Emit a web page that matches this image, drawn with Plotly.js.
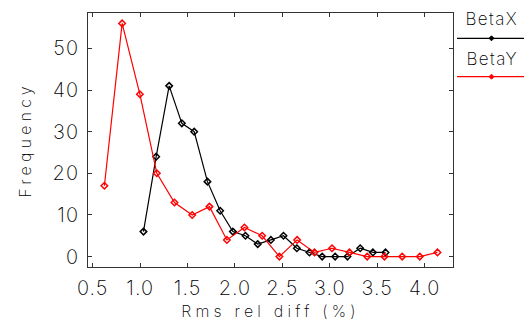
<!DOCTYPE html>
<html><head><meta charset="utf-8">
<script src="https://cdn.plot.ly/plotly-3.0.1.min.js"></script>
<style>
html,body{margin:0;padding:0;background:#fff}#chart{width:524px;height:322px}
#chart text.xtitle, #chart text.ytitle{letter-spacing:4.2px}
#chart .xtick text, #chart .ytick text{letter-spacing:1px}
#chart text.annotation-text{letter-spacing:1.4px}
</style>
</head><body><div id="chart"></div>
<script>
const betaXBins = [1.035,1.169,1.306,1.440,1.570,1.710,1.844,1.978,2.111,2.240,2.379,2.512,2.653,2.786,2.920,3.057,3.187,3.321,3.455,3.588];
const betaXFreq = [6,24,41,32,30,18,11,6,5,3,4,5,2,1,0,0,0,2,1,1];
const betaYBins = [0.623,0.810,0.997,1.176,1.362,1.549,1.731,1.915,2.100,2.287,2.469,2.656,2.839,3.024,3.208,3.395,3.577,3.764,3.950,4.136];
const betaYFreq = [17,56,39,20,13,10,12,4,7,5,0,4,1,2,1,0,0,0,0,1];
const xTicks = [0.5,1.0,1.5,2.0,2.5,3.0,3.5,4.0];
const yTicks = [0,10,20,30,40,50];
const seriesNames = ['BetaX','BetaY'];
const seriesColors = ['#000000','#ff0000'];

const FONT = 'Inter, DejaVu Sans, sans-serif';
const WT = 250;
const TXT = '#000';
const mk = (x,y,c,n)=>({x:x,y:y,name:n,type:'scatter',mode:'lines+markers',
  line:{color:c,width:1.2},marker:{symbol:'diamond-open',size:5,color:c,line:{color:c,width:1.5}},showlegend:false});

const traces=[mk(betaXBins,betaXFreq,seriesColors[0],seriesNames[0]),mk(betaYBins,betaYFreq,seriesColors[1],seriesNames[1])];

const W=365,H=254;
const lx0=(457-88)/W, lx1=(526-88)/W, lxm=(491.5-88)/W;
const legY=[(267-38.3)/H,(267-76.7)/H];
const txtY=[(267-19.5)/H,(267-58.5)/H];
const dx=2.5/W, dy=2.5/H;
const shapes=[],annotations=[];
seriesNames.forEach((n,i)=>{
  shapes.push({type:'line',xref:'paper',yref:'paper',x0:lx0,x1:lx1,y0:legY[i],y1:legY[i],line:{color:seriesColors[i],width:1.2}});
  shapes.push({type:'path',xref:'paper',yref:'paper',path:`M ${lxm-dx},${legY[i]} L ${lxm},${legY[i]+dy} L ${lxm+dx},${legY[i]} L ${lxm},${legY[i]-dy} Z`,fillcolor:seriesColors[i],line:{color:seriesColors[i],width:1}});
  annotations.push({xref:'paper',yref:'paper',x:(492-88)/W,y:txtY[i],text:n,showarrow:false,xanchor:'center',yanchor:'middle',font:{family:FONT,size:17,color:TXT,weight:WT}});
});

const axisCommon={showgrid:false,zeroline:false,showline:true,linecolor:'#333',linewidth:1,mirror:'ticks',ticks:'inside',ticklen:4,tickcolor:'#333',tickfont:{family:FONT,size:20,color:TXT,weight:WT}};
const layout={
  width:524,height:322,margin:{l:88,r:71,t:13,b:55},
  paper_bgcolor:'#fff',plot_bgcolor:'#fff',
  xaxis:Object.assign({},axisCommon,{range:[0.45,4.30],tickvals:xTicks,ticktext:xTicks.map(v=>v.toFixed(1)),ticklabelstandoff:3,
    title:{text:'Rms rel diff (%)',font:{family:FONT,size:16,color:TXT,weight:WT},standoff:6}}),
  yaxis:Object.assign({},axisCommon,{range:[-2.5,58.5],tickvals:yTicks,ticklabelstandoff:4,
    title:{text:'Frequency',font:{family:FONT,size:16,color:TXT,weight:WT},standoff:18}}),
  shapes:shapes,annotations:annotations,showlegend:false
};
Plotly.newPlot('chart',traces,layout,{staticPlot:true,displayModeBar:false});
</script></body></html>
